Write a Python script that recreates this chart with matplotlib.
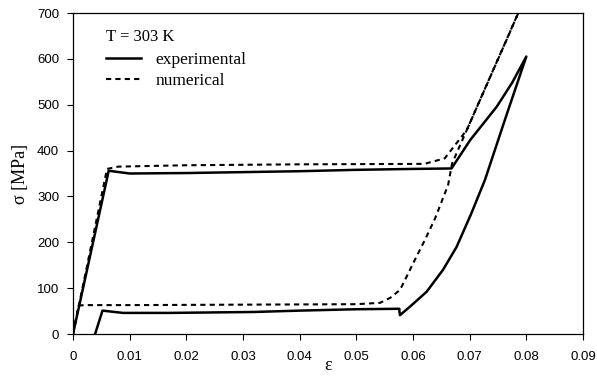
import matplotlib
matplotlib.use("Agg")
import matplotlib.pyplot as plt
from matplotlib.lines import Line2D

# experimental loop (strain, stress MPa)
exp_strain = [0.0, 0.0063, 0.010, 0.020, 0.030, 0.040, 0.050, 0.060, 0.0668,
              0.0701, 0.0748, 0.0775, 0.0800,
              0.0763, 0.0727, 0.0703, 0.0677, 0.0653, 0.0624, 0.0595, 0.0577,
              0.0576, 0.0576, 0.0500, 0.0400, 0.0318, 0.0171, 0.0088, 0.0052, 0.0039]
exp_stress = [0, 356, 350, 351, 353, 355, 358, 360, 361,
              423, 496, 548, 605,
              470, 336, 263, 190, 140, 92, 60, 41,
              50, 55, 54, 51, 48, 46, 46, 51, 0]

# numerical loop
num_strain = [0.0, 0.006, 0.008, 0.020, 0.040, 0.062, 0.0656, 0.0695, 0.0765, 0.0800,
              0.0669, 0.0662, 0.0639, 0.0621, 0.0603, 0.0586, 0.0577, 0.0560, 0.0542,
              0.0500, 0.0300, 0.0100, 0.0020, 0.0010, 0.0]
num_stress = [0, 360, 365, 368, 370, 371, 383, 445, 641, 740,
              372, 325, 252, 205, 161, 118, 96, 79, 68,
              65, 64, 63, 63, 62, 0]

x_ticks = [0, 0.01, 0.02, 0.03, 0.04, 0.05, 0.06, 0.07, 0.08, 0.09]
x_labels = ["0", "0.01", "0.02", "0.03", "0.04", "0.05", "0.06", "0.07", "0.08", "0.09"]
y_ticks = [0, 100, 200, 300, 400, 500, 600, 700]

fig = plt.figure(figsize=(5.97, 3.78), dpi=100)
ax = fig.add_axes([0.1223, 0.1164, 0.8542, 0.8492])

ax.plot(exp_strain, exp_stress, color="black", lw=1.8, solid_joinstyle="round")
ax.plot(num_strain, num_stress, color="black", lw=1.5, linestyle=(0, (2.5, 2)))

ax.set_xlim(0, 0.09)
ax.set_ylim(0, 700)
ax.set_xticks(x_ticks)
ax.set_xticklabels(x_labels)
ax.set_yticks(y_ticks)
for lab in ax.get_xticklabels() + ax.get_yticklabels():
    lab.set_fontfamily("Liberation Sans")
    lab.set_fontsize(9.5)
ax.tick_params(direction="out", length=4, width=0.8, pad=8)
ax.tick_params(axis="y", pad=6)
for s in ax.spines.values():
    s.set_linewidth(0.9)

ax.set_xlabel("ε", family="Liberation Serif", fontsize=13, labelpad=-4)
ax.set_ylabel("σ [MPa]", family="Liberation Serif", fontsize=13, labelpad=6)

handles = [Line2D([], [], color="black", lw=1.8),
           Line2D([], [], color="black", lw=1.5, linestyle=(0, (2.5, 2)))]
leg = ax.legend(handles, ["experimental", "numerical"], loc="upper left",
                bbox_to_anchor=(0.035, 1.0), frameon=False,
                prop={"family": "Liberation Serif", "size": 12.5},
                handlelength=2.0, handletextpad=0.8, labelspacing=0.3,
                title="T = 303 K", title_fontproperties={"family": "Liberation Serif", "size": 12})
leg._legend_box.align = "left"
leg._legend_box.sep = 5

fig.savefig("out.png", dpi=100)
